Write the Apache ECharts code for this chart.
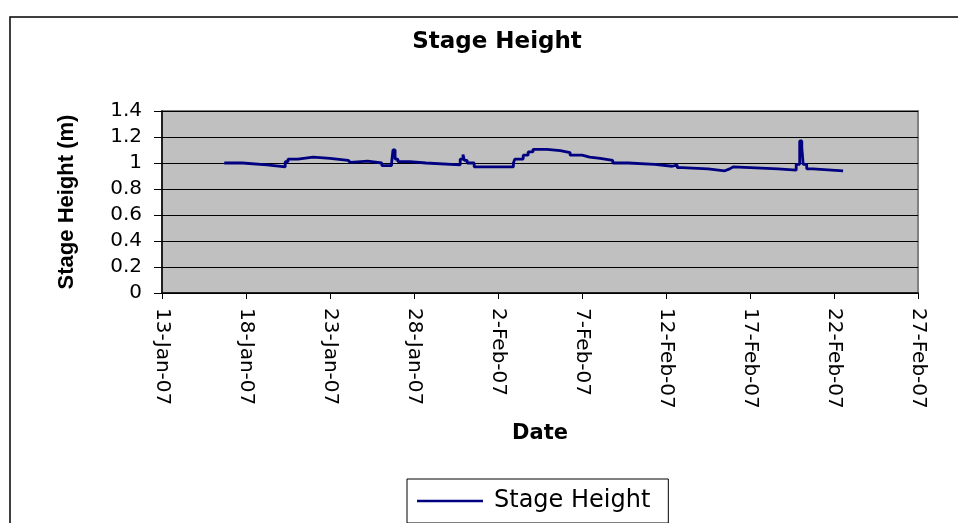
<!DOCTYPE html>
<html>
<head>
<meta charset="utf-8">
<script src="https://cdn.jsdelivr.net/npm/echarts@6/dist/echarts.min.js"></script>
<style>
  html, body { margin: 0; padding: 0; background: #fff; }
  #chart { width: 958px; height: 523px; }
</style>
</head>
<body>
<div id="chart"></div>
<script>
// readings (date/time of level change) and stage height in metres
const dates = [
  "2007-01-16 17:00", "2007-01-17 19:00", "2007-01-19 06:00", "2007-01-20 08:00",
  "2007-01-20 12:00", "2007-01-21 02:00", "2007-01-22 00:00", "2007-01-23 00:00",
  "2007-01-24 02:00", "2007-01-24 05:00", "2007-01-25 06:00", "2007-01-26 02:00",
  "2007-01-26 16:00", "2007-01-26 18:00", "2007-01-26 21:00", "2007-01-27 01:00",
  "2007-01-27 18:00", "2007-01-28 17:00", "2007-01-30 18:00", "2007-01-30 22:00",
  "2007-01-31 00:00", "2007-01-31 04:00", "2007-01-31 14:00", "2007-02-02 09:00",
  "2007-02-02 11:00", "2007-02-02 22:00", "2007-02-03 00:00", "2007-02-03 12:00",
  "2007-02-03 19:00", "2007-02-04 02:00", "2007-02-04 22:00", "2007-02-05 17:00",
  "2007-02-06 07:00", "2007-02-07 00:00", "2007-02-07 11:00", "2007-02-08 02:00",
  "2007-02-08 20:00", "2007-02-09 18:00", "2007-02-11 08:00", "2007-02-12 09:00",
  "2007-02-12 16:00", "2007-02-12 23:00", "2007-02-14 12:00", "2007-02-15 12:00",
  "2007-02-15 19:00", "2007-02-16 00:00", "2007-02-18 16:00", "2007-02-19 18:00",
  "2007-02-19 23:00", "2007-02-20 02:00", "2007-02-20 04:00", "2007-02-20 09:00",
  "2007-02-20 18:00", "2007-02-22 13:00"
]
const stage = [
  1.00, 0.985, 0.97, 1.01,
  1.03, 1.045, 1.035, 1.02,
  1.005, 1.015, 1.00, 0.98,
  1.00, 1.10, 1.03, 1.01,
  1.00, 0.985, 1.03, 1.065,
  1.02, 1.00, 0.97, 0.96,
  0.97, 1.00, 1.03, 1.06,
  1.085, 1.105, 1.095, 1.08,
  1.06, 1.045, 1.035, 1.02,
  1.00, 0.99, 0.975, 0.985,
  0.965, 0.955, 0.94, 0.955,
  0.97, 0.955, 0.945, 0.99,
  1.17, 1.12, 0.99, 0.955,
  0.94, 0.94
]
const axisStart = "2007-01-13 00:00"
const axisEnd = "2007-02-27 00:00"
const dayStep = 5
const months = ["Jan", "Feb", "Mar", "Apr", "May", "Jun", "Jul", "Aug", "Sep", "Oct", "Nov", "Dec"]

const DAY = 86400000
function parseDate(s) {
  const [d, t] = s.split(" ")
  const [y, m, dd] = d.split("-").map(Number)
  const [h, mi] = t.split(":").map(Number)
  return Date.UTC(y, m - 1, dd, h, mi)
}
const base = parseDate(axisStart)
const toDays = s => (parseDate(s) - base) / DAY
function dayLabel(v) {
  const d = new Date(base + Math.round(v) * DAY)
  return d.getUTCDate() + "-" + months[d.getUTCMonth()] + "-" + String(d.getUTCFullYear()).slice(2)
}

// each reading holds until the next one, so add the corner points of the steps
const stepData = []
dates.forEach((d, i) => {
  const x = toDays(d)
  if (i > 0) stepData.push([x, stage[i - 1]])
  stepData.push([x, stage[i]])
})

const chart = echarts.init(document.getElementById("chart"), null, { renderer: "canvas" })
chart.setOption({
  animation: false,
  backgroundColor: "#fff",
  graphic: [{
    type: "rect",
    shape: { x: 10, y: 17, width: 1000, height: 600 },
    style: { fill: "none", stroke: "#000", lineWidth: 1.5 },
    silent: true,
  }],
  title: {
    text: "Stage Height",
    left: 492,
    top: 26,
    textAlign: "center",
    textStyle: { fontFamily: "DejaVu Sans", fontWeight: "bold", fontSize: 23, color: "#000" },
  },
  legend: {
    left: 407,
    top: 479,
    orient: "horizontal",
    icon: "rect",
    itemWidth: 66,
    itemHeight: 2.5,
    itemGap: 0,
    padding: [10, 18, 10, 10],
    borderColor: "#000",
    borderWidth: 1,
    textStyle: { fontFamily: "DejaVu Sans", fontSize: 24, color: "#000", padding: [0, 0, 0, 6] },
    data: ["Stage Height"],
  },
  grid: {
    show: true,
    left: 162,
    right: 40,
    top: 111,
    bottom: 230,
    backgroundColor: "#C0C0C0",
    borderColor: "#808080",
    borderWidth: 2,
  },
  xAxis: {
    type: "value",
    min: 0,
    max: toDays(axisEnd),
    interval: dayStep,
    name: "Date",
    nameLocation: "middle",
    nameGap: 130,
    nameTextStyle: { fontFamily: "DejaVu Sans", fontWeight: "bold", fontSize: 21, color: "#000" },
    axisLine: { lineStyle: { color: "#000", width: 1.5 } },
    axisTick: { show: true, inside: false, length: 6, lineStyle: { color: "#000" } },
    splitLine: { show: false },
    axisLabel: {
      rotate: -90,
      margin: 15,
      color: "#000",
      fontFamily: "DejaVu Sans",
      fontSize: 20,
      formatter: dayLabel,
    },
  },
  yAxis: {
    type: "value",
    min: 0,
    max: 1.4,
    interval: 0.2,
    name: "Stage Height (m)",
    nameLocation: "middle",
    nameGap: 84,
    nameTextStyle: { fontFamily: "Liberation Sans", fontWeight: "bold", fontSize: 22, color: "#000" },
    axisLine: { show: true, lineStyle: { color: "#000", width: 1.5 } },
    axisTick: { show: true, inside: false, length: 8, lineStyle: { color: "#000" } },
    splitLine: { show: true, lineStyle: { color: "#000", width: 1 } },
    axisLabel: {
      margin: 20,
      color: "#000",
      fontFamily: "DejaVu Sans",
      fontSize: 20,
      formatter: v => String(Math.round(v * 10) / 10),
    },
  },
  series: [{
    name: "Stage Height",
    type: "line",
    symbol: "none",
    color: "#000080",
    lineStyle: { color: "#000080", width: 2.8 },
    data: stepData,
  }],
})
</script>
</body>
</html>
